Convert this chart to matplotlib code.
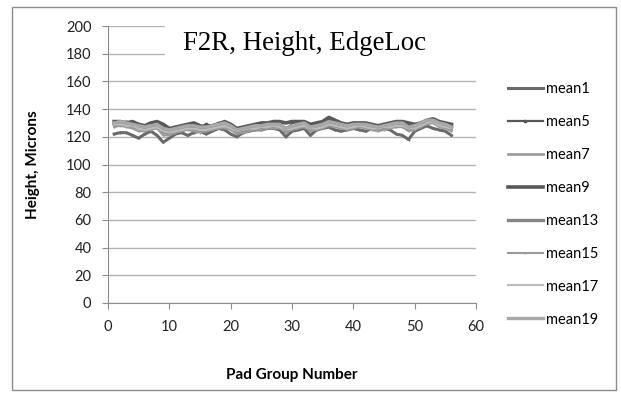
import matplotlib
matplotlib.use("Agg")
import matplotlib.pyplot as plt
from matplotlib.patches import Rectangle

# pad group numbers 1..56
pads = list(range(1, 57))

mean1 = [122, 123, 123, 121, 119, 122, 124, 121, 116, 119,
         122, 123, 121, 123, 124, 122, 124, 126, 125, 122,
         120, 123, 124, 125, 125, 126, 126, 125, 120, 124,
         125, 126, 121, 125, 126, 127, 125, 124, 125, 126,
         125, 124, 126, 125, 126, 125, 122, 121, 118, 124,
         126, 128, 126, 125, 124, 121]
mean5 = [129, 130, 131, 130, 128, 127, 129, 130, 127, 125,
         127, 128, 129, 128, 127, 129, 128, 130, 131, 128,
         124, 126, 127, 128, 129, 129, 130, 130, 126, 129,
         130, 130, 128, 129, 130, 132, 131, 129, 128, 129,
         130, 129, 128, 127, 128, 129, 130, 131, 129, 128,
         129, 131, 132, 130, 129, 128]
mean7 = [128, 129, 128, 127, 126, 125, 126, 127, 123, 122,
         124, 125, 126, 125, 124, 126, 126, 127, 128, 126,
         123, 124, 125, 126, 126, 127, 127, 127, 124, 126,
         127, 128, 125, 126, 127, 129, 128, 127, 126, 127,
         128, 127, 126, 125, 127, 127, 128, 128, 125, 126,
         128, 130, 131, 128, 127, 125]
mean9 = [131, 131, 130, 131, 129, 128, 130, 131, 129, 126,
         127, 128, 129, 130, 128, 127, 128, 129, 131, 129,
         126, 127, 128, 129, 130, 130, 131, 131, 130, 131,
         131, 131, 129, 130, 131, 134, 132, 130, 129, 130,
         130, 130, 129, 128, 129, 130, 131, 131, 130, 129,
         130, 132, 133, 131, 130, 129]
mean13 = [130, 130, 129, 129, 127, 127, 128, 128, 124, 123,
          125, 126, 127, 127, 126, 126, 127, 128, 129, 127,
          123, 125, 126, 127, 127, 128, 128, 128, 125, 127,
          128, 129, 126, 127, 128, 130, 129, 128, 127, 128,
          129, 128, 127, 126, 127, 128, 129, 129, 126, 127,
          129, 131, 132, 129, 128, 126]
mean15 = [127, 128, 127, 126, 124, 124, 125, 126, 121, 121,
          123, 124, 125, 124, 123, 124, 125, 126, 126, 125,
          122, 123, 124, 125, 125, 126, 126, 126, 123, 125,
          126, 127, 124, 125, 126, 128, 127, 126, 125, 126,
          127, 126, 125, 124, 125, 126, 127, 127, 124, 125,
          127, 129, 130, 127, 126, 124]
mean17 = [129, 129, 128, 128, 126, 125, 126, 127, 124, 123,
          124, 125, 126, 126, 125, 125, 126, 127, 128, 126,
          124, 125, 126, 126, 127, 127, 128, 127, 125, 126,
          127, 128, 126, 126, 127, 129, 128, 127, 126, 127,
          128, 127, 126, 126, 127, 127, 128, 128, 126, 126,
          128, 130, 131, 128, 127, 126]
mean19 = [130, 131, 130, 129, 128, 127, 128, 129, 126, 125,
          126, 127, 128, 128, 127, 127, 128, 129, 130, 128,
          125, 126, 127, 128, 128, 129, 129, 129, 126, 128,
          129, 130, 127, 128, 129, 131, 130, 129, 128, 129,
          129, 129, 128, 127, 128, 129, 130, 130, 127, 128,
          130, 132, 132, 130, 129, 127]

names = ["mean1", "mean5", "mean7", "mean9", "mean13", "mean15", "mean17", "mean19"]
series = [mean1, mean5, mean7, mean9, mean13, mean15, mean17, mean19]
colors = ["#6a6a6a", "#555555", "#a0a0a0", "#595959", "#858585", "#9a9a9a", "#bcbcbc", "#a8a8a8"]
widths = [2.2, 1.6, 2.0, 2.6, 2.4, 1.5, 1.5, 2.4]
markers = ["|", "s", "|", None, None, "|", None, None]

plt.rcParams["font.family"] = ["Lato", "DejaVu Sans"]

fig = plt.figure(figsize=(6.21, 4.01), dpi=100)
ax = fig.add_axes([108 / 621, 1 - 303 / 401, 368 / 621, 277 / 401])

for vals, name, c, w, m in zip(series, names, colors, widths, markers):
    ax.plot(pads, vals, color=c, lw=w, marker=m, markersize=1.5, label=name)

ax.set_xlim(0, 60)
ax.set_ylim(0, 200)
ax.set_xticks(range(0, 61, 10))
ax.set_yticks(range(0, 201, 20))
ax.set_axisbelow(True)
ax.grid(axis="y", color="#b4b4b4", lw=1)
for s in ["top", "right"]:
    ax.spines[s].set_visible(False)
for s in ["left", "bottom"]:
    ax.spines[s].set_color("#8c8c8c")
ax.tick_params(colors="#8c8c8c", labelcolor="#222222", labelsize=10.5, length=4)
ax.tick_params(axis="x", pad=8)
ax.tick_params(axis="y", pad=8)

ax.set_xlabel("Pad Group Number", fontsize=11, fontweight="bold")
ax.xaxis.set_label_coords(0.5, -0.234)
ax.set_ylabel("Height, Microns", fontsize=11, fontweight="bold")
ax.yaxis.set_label_coords(-0.185, 0.5)

# white box behind the title hides the top gridlines
ax.add_patch(Rectangle((165 / 621, 1 - 68 / 401), 325 / 621, 56 / 401,
                       transform=fig.transFigure, facecolor="white",
                       edgecolor="none", zorder=1, clip_on=False))
fig.text(0.49, 1 - 43 / 401, "F2R, Height, EdgeLoc", family="Liberation Serif",
         fontsize=19.4, ha="center", va="center")

fig.legend(loc="upper left", bbox_to_anchor=(502 / 621, 1 - 76 / 401),
           frameon=False, fontsize=10.5, handlelength=2.4, handletextpad=0.2,
           labelspacing=1.3, borderaxespad=0)

fig.patches.append(Rectangle((12 / 621, 1 - 390 / 401), 604 / 621, 383 / 401,
                             transform=fig.transFigure, facecolor="none",
                             edgecolor="#8c8c8c", lw=1))

fig.savefig("out.png", dpi=100)
